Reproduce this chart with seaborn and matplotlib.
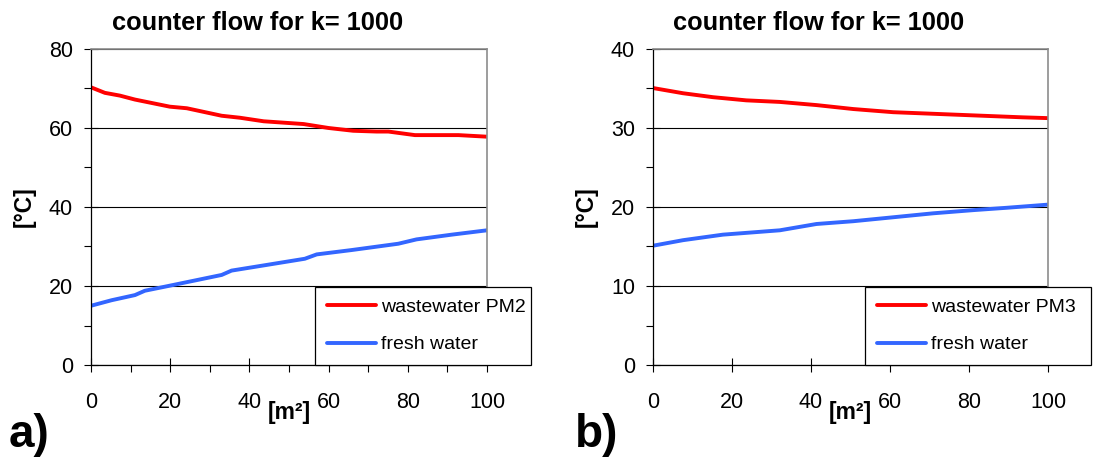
import matplotlib
matplotlib.use("Agg")
import matplotlib.pyplot as plt
from matplotlib.ticker import MultipleLocator, NullLocator
import pandas as pd
import seaborn as sns

# Heat-exchanger area [m2] and temperatures [°C], counter flow, k = 1000
area_a_waste = [0, 3.5, 7.3, 11.1, 19.9, 24.2, 33, 37.6, 43.6, 53.7, 60, 66.2, 72.1, 75.1, 81.8, 92.8, 100]
temp_a_waste = [70.3, 68.9, 68.2, 67.2, 65.4, 65.0, 63.1, 62.6, 61.7, 61.0, 60.0, 59.3, 59.1, 59.1, 58.2, 58.2, 57.8]
area_a_fresh = [0, 5.2, 11.1, 13.6, 19.5, 33, 35.5, 42.3, 54, 57, 65.8, 77.6, 82.2, 91.1, 100]
temp_a_fresh = [15.0, 16.4, 17.7, 18.8, 20.0, 22.8, 23.9, 25.0, 26.9, 28.0, 29.1, 30.7, 31.8, 33.0, 34.1]

area_b_waste = [0, 7.6, 15.2, 23.6, 32.1, 41.4, 50.7, 60.8, 70.9, 81, 93.6, 100]
temp_b_waste = [35.06, 34.4, 33.9, 33.5, 33.3, 32.9, 32.4, 32.0, 31.8, 31.6, 31.35, 31.25]
area_b_fresh = [0, 7.6, 17.7, 32.1, 41.4, 50.7, 60.8, 70.9, 81, 89.5, 100]
temp_b_fresh = [15.1, 15.8, 16.5, 17.05, 17.85, 18.2, 18.7, 19.2, 19.6, 19.9, 20.3]

labels_a = ["wastewater PM2", "fresh water"]
labels_b = ["wastewater PM3", "fresh water"]
title = "counter flow for k= 1000"
xlabel = "[m²]"
ylabel = "[°C]"
panel_tags = ["a)", "b)"]

RED = "#FF0000"
BLUE = "#3366FF"

sns.set_style("white")
plt.rcParams["font.family"] = ["Liberation Sans", "DejaVu Sans"]
plt.rcParams["text.color"] = "black"
plt.rcParams["axes.labelcolor"] = "black"


def frame(xs1, ys1, xs2, ys2, labels):
    return pd.concat([
        pd.DataFrame({"area": xs1, "temp": ys1, "series": labels[0]}),
        pd.DataFrame({"area": xs2, "temp": ys2, "series": labels[1]}),
    ], ignore_index=True)


def draw_panel(ax, df, labels, ymax, ystep, yminor, xminor, legend_box):
    sns.lineplot(data=df, x="area", y="temp", hue="series", hue_order=labels,
                 palette=[RED, BLUE], estimator=None, sort=False, lw=2.8,
                 ax=ax, legend=True)
    ax.set_xlim(0, 100)
    ax.set_ylim(0, ymax)
    ax.xaxis.set_major_locator(MultipleLocator(20))
    ax.yaxis.set_major_locator(MultipleLocator(ystep))
    ax.yaxis.set_minor_locator(MultipleLocator(yminor))
    if xminor:
        ax.xaxis.set_minor_locator(MultipleLocator(xminor))
    else:
        ax.xaxis.set_minor_locator(NullLocator())

    ax.set_axisbelow(True)
    ax.yaxis.grid(True, which="major", color="black", lw=0.8)
    ax.xaxis.grid(False)

    for side in ("left", "bottom"):
        ax.spines[side].set_color("black")
        ax.spines[side].set_linewidth(0.9)
    for side in ("top", "right"):
        ax.spines[side].set_color("#8c8c8c")
        ax.spines[side].set_linewidth(1.2)

    ax.tick_params(which="major", direction="inout", length=10, width=0.8,
                   color="black", labelsize=15.5, labelcolor="black")
    ax.tick_params(which="minor", direction="out", length=5, width=0.8, color="black")
    ax.tick_params(axis="x", which="major", pad=14.2)
    ax.tick_params(axis="y", which="major", pad=8)
    ax.tick_params(bottom=True, left=True, top=False, right=False)
    ax.tick_params(axis="x", which="minor", bottom=True)
    ax.tick_params(axis="y", which="minor", left=True)

    ax.set_xlabel(xlabel, fontsize=16.5, fontweight="bold")
    ax.xaxis.set_label_coords(0.5, -0.115)
    ax.set_ylabel(ylabel, fontsize=16.5, fontweight="bold", va="center")
    ax.yaxis.set_label_coords(-0.168, 0.5)

    ax.text(0.42, 1.06, title, transform=ax.transAxes, ha="center",
            va="baseline", fontsize=18.3, fontweight="bold")

    handles, _ = ax.get_legend_handles_labels()
    leg = ax.legend(handles, labels, loc="lower left", bbox_to_anchor=legend_box,
                    mode="expand", borderaxespad=0, frameon=True, fancybox=False,
                    edgecolor="black", framealpha=1, fontsize=14,
                    handlelength=2.52, handletextpad=0.26, labelspacing=1.0,
                    borderpad=0.6)
    leg.get_frame().set_linewidth(0.9)
    for line in leg.get_lines():
        line.set_linewidth(2.8)


fig = plt.figure(figsize=(10.93, 4.57), dpi=100)
ax_a = fig.add_axes([91 / 1093, 92 / 457, 396 / 1093, 316 / 457])
ax_b = fig.add_axes([653 / 1093, 92 / 457, 395 / 1093, 316 / 457])

draw_panel(ax_a, frame(area_a_waste, temp_a_waste, area_a_fresh, temp_a_fresh, labels_a),
           labels_a, 80, 20, 10, 10, (0.566, 0.0, 0.545, 0.25))
draw_panel(ax_b, frame(area_b_waste, temp_b_waste, area_b_fresh, temp_b_fresh, labels_b),
           labels_b, 40, 10, 5, None, (0.537, 0.0, 0.572, 0.25))

fig.text(9 / 1093, 10 / 457, panel_tags[0], fontsize=33, fontweight="bold", va="baseline")
fig.text(575 / 1093, 10 / 457, panel_tags[1], fontsize=33, fontweight="bold", va="baseline")

fig.savefig("out.png", dpi=100, facecolor="white")
